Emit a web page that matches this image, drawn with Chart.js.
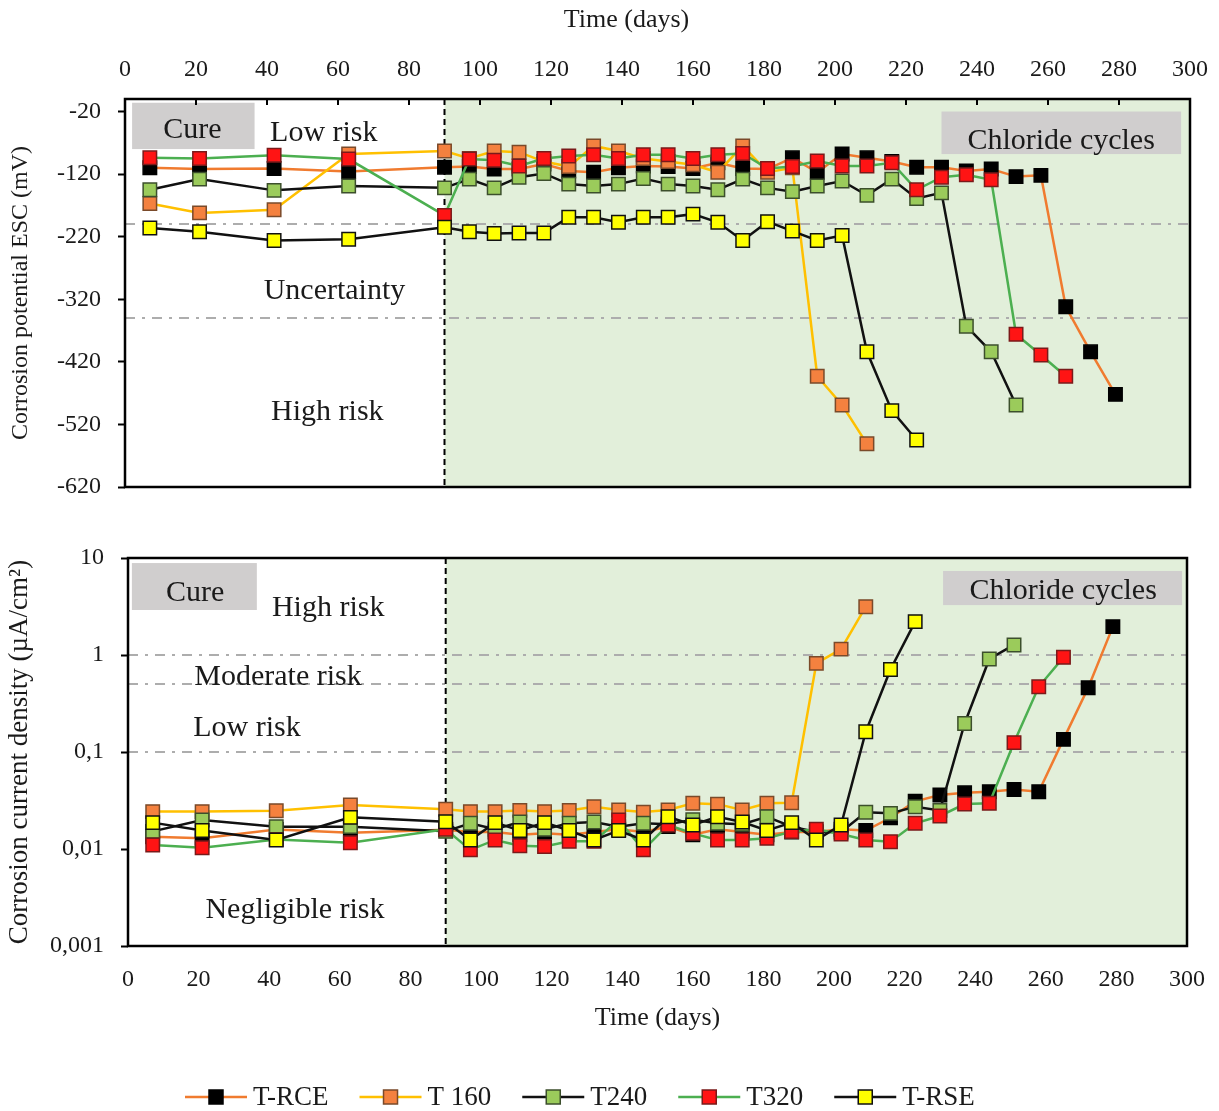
<!DOCTYPE html>
<html>
<head>
<meta charset="utf-8">
<script src="https://cdn.jsdelivr.net/npm/chart.js@4.4.1/dist/chart.umd.min.js"></script>
<style>
  html, body { margin: 0; padding: 0; background: #fff; }
  #wrap { position: relative; width: 1219px; height: 1111px; }
  canvas { position: absolute; left: 0; }
  #potential { top: 0; }
  #current { top: 505px; }
</style>
</head>
<body>
<div id="wrap">
  <canvas id="potential" width="1219" height="505"></canvas>
  <canvas id="current" width="1219" height="606"></canvas>
</div>
<script>
// measurement days (weekly during chloride cycles)
const days = [7, 21, 42, 63, 90, 97, 104, 111, 118, 125, 132, 139, 146, 153, 160, 167, 174, 181,
  188, 195, 202, 209, 216, 223, 230, 237, 244, 251, 258, 265, 272, 279];
const seriesNames = ['T-RCE', 'T 160', 'T240', 'T320', 'T-RSE'];

// corrosion potential vs SCE (mV)
const potRCE = [-110, -112, -111, -116, -109, -108, -112, -112, -104, -115, -117, -110, -107, -108, -111, -102,
  -111, -112, -94, -117, -88, -94, -100, -109, -109, -115, -112, -124, -122, -332, -404, -472];
const potT160 = [-167, -182, -177, -88, -83, -95, -83, -85, -100, -108, -75, -83, -95, -100, -105, -117,
  -75, -117, -110, -443, -489, -551];
const potT240 = [-145, -128, -146, -139, -142, -128, -142, -125, -119, -136, -139, -136, -127, -136, -139, -145,
  -128, -142, -148, -139, -131, -154, -128, -159, -150, -363, -404, -489];
const potT320 = [-94, -95, -90, -96, -186, -96, -98, -107, -95, -91, -89, -95, -89, -89, -95, -89,
  -87, -111, -108, -99, -107, -107, -102, -145, -125, -121, -129, -376, -409, -443];
const potRSE = [-206, -212, -226, -224, -205, -212, -215, -214, -214, -189, -189, -197, -189, -189, -184, -197,
  -226, -196, -211, -226, -218, -404, -498, -545];

// corrosion current density (uA/cm2)
const curRCE = [0.0134, 0.0129, 0.0159, 0.0147, 0.0158, 0.015, 0.015, 0.014, 0.0145, 0.014, 0.015, 0.016, 0.015,
  0.017, 0.014, 0.016, 0.015, 0.014, 0.015, 0.015, 0.016, 0.0155, 0.021, 0.031, 0.036, 0.038, 0.039, 0.041, 0.039,
  0.135, 0.46, 1.96];
const curT160 = [0.0243, 0.0243, 0.0248, 0.0284, 0.0257, 0.0243, 0.0243, 0.025, 0.0243, 0.025, 0.0273, 0.0252,
  0.024, 0.0252, 0.0296, 0.029, 0.0252, 0.0296, 0.030, 0.82, 1.15, 3.15];
const curT240 = [0.0152, 0.0199, 0.017, 0.017, 0.0152, 0.0184, 0.016, 0.019, 0.016, 0.0184, 0.019, 0.017, 0.0184,
  0.018, 0.02, 0.0184, 0.018, 0.0215, 0.017, 0.015, 0.015, 0.0239, 0.0233, 0.0273, 0.025, 0.197, 0.91, 1.27];
const curT320 = [0.011, 0.0103, 0.0125, 0.0116, 0.016, 0.0098, 0.0124, 0.0108, 0.0106, 0.012, 0.012, 0.0199,
  0.0098, 0.0177, 0.0145, 0.0124, 0.0124, 0.0129, 0.0151, 0.016, 0.0143, 0.0124, 0.0119, 0.0184, 0.0219, 0.0291,
  0.0296, 0.125, 0.47, 0.946];
const curRSE = [0.0187, 0.0155, 0.0124, 0.0212, 0.0191, 0.0124, 0.0187, 0.0155, 0.0187, 0.0155, 0.0124, 0.0155,
  0.0124, 0.0215, 0.0177, 0.0215, 0.019, 0.0155, 0.0187, 0.0124, 0.0177, 0.162, 0.71, 2.21];

// axis ticks
const potTicks = [-620, -520, -420, -320, -220, -120, -20];
const curTicks = [0.001, 0.01, 0.1, 1, 10];
const curTickLabels = ['0,001', '0,01', '0,1', '1', '10'];
const cureEnd = 90;

const styles = [
  { line: '#F07B2F', fill: '#000000', edge: '#000000' },
  { line: '#FFC000', fill: '#F4813F', edge: '#7A4A2A' },
  { line: '#111111', fill: '#9BCB5B', edge: '#3C4F2C' },
  { line: '#4CAF50', fill: '#FF1414', edge: '#7A1A1A' },
  { line: '#111111', fill: '#FFFF00', edge: '#111111' },
];

Chart.defaults.font.family = "'Liberation Serif', 'Times New Roman', serif";
Chart.defaults.color = '#1a1a1a';

function makeSets(lists) {
  return lists.map((vals, i) => ({
    label: seriesNames[i],
    data: vals.map((v, k) => ({ x: days[k], y: v })),
    borderColor: styles[i].line,
    borderWidth: 2.5,
    pointStyle: 'rect',
    pointRadius: 9.5,
    pointBackgroundColor: styles[i].fill,
    pointBorderColor: styles[i].edge,
    pointBorderWidth: 1.5,
    tension: 0,
    order: 5 - i,
  }));
}

function seg(ctx, x0, y0, x1, y1) {
  ctx.beginPath();
  ctx.moveTo(x0, y0);
  ctx.lineTo(x1, y1);
  ctx.stroke();
}

// keep the plot frame where the layout padding puts it
function fixY(w) {
  return s => { s.width = w; s.paddingTop = 0; s.paddingBottom = 0; };
}
function fixX(h) {
  return s => { s.height = h; s.paddingLeft = 0; s.paddingRight = 0; };
}

// shading, risk bands, phase boxes and labels, plot frame
const decor = {
  id: 'decor',
  beforeDatasetsDraw(chart, args, o) {
    const { ctx, chartArea: a, scales: { x, y } } = chart;
    const x90 = x.getPixelForValue(cureEnd);
    ctx.save();
    ctx.fillStyle = '#E2EFDA';
    ctx.fillRect(x90, a.top, a.right - x90, a.bottom - a.top);

    ctx.strokeStyle = '#ADADAD';
    ctx.lineWidth = 2;
    ctx.setLineDash([10, 7, 3, 7]);
    o.thresholds.forEach(v => {
      const py = Math.round(y.getPixelForValue(v));
      seg(ctx, a.left, py, a.right, py);
    });

    ctx.setLineDash([]);
    ctx.fillStyle = '#D0CECE';
    o.boxes.forEach(b => {
      const px0 = x.getPixelForValue(b.x0), px1 = x.getPixelForValue(b.x1);
      const py0 = y.getPixelForValue(b.y0), py1 = y.getPixelForValue(b.y1);
      ctx.fillRect(px0, py0, px1 - px0, py1 - py0);
    });

    ctx.strokeStyle = '#000';
    ctx.lineWidth = 2;
    ctx.setLineDash([6, 4]);
    seg(ctx, x90, a.top, x90, a.bottom);
    ctx.setLineDash([]);

    ctx.fillStyle = '#1a1a1a';
    ctx.font = "30px 'Liberation Serif'";
    ctx.textAlign = 'center';
    ctx.textBaseline = 'middle';
    o.labels.forEach(l => {
      ctx.fillText(l.text, x.getPixelForValue(l.x), y.getPixelForValue(l.y));
    });
    ctx.restore();
  },
  afterDatasetsDraw(chart, args, o) {
    const { ctx, chartArea: a, scales: { x } } = chart;
    ctx.save();
    ctx.strokeStyle = '#000';
    ctx.lineWidth = 2.5;
    ctx.strokeRect(a.left, a.top, a.right - a.left, a.bottom - a.top);
    if (o.innerTicks) {
      ctx.lineWidth = 2;
      for (let d = 20; d < 300; d += 20) {
        const px = x.getPixelForValue(d);
        seg(ctx, px, a.top, px, a.top + 6);
      }
    }
    if (o.topTitle) {
      ctx.fillStyle = '#1a1a1a';
      ctx.font = "26px 'Liberation Serif'";
      ctx.textAlign = 'center';
      ctx.textBaseline = 'middle';
      ctx.fillText(o.topTitle, (a.left + a.right) / 2 - 31, 20);
    }
    if (o.legend) drawLegend(chart);
    ctx.restore();
  }
};

function drawLegend(chart) {
  const ctx = chart.ctx;
  const y = chart.height - 14;
  let x = 185;
  ctx.font = "27px 'Liberation Serif'";
  ctx.textAlign = 'left';
  ctx.textBaseline = 'middle';
  seriesNames.forEach((name, i) => {
    const st = styles[i];
    ctx.strokeStyle = st.line;
    ctx.lineWidth = 2.5;
    seg(ctx, x, y, x + 62, y);
    ctx.fillStyle = st.fill;
    ctx.fillRect(x + 24, y - 7, 14, 14);
    ctx.strokeStyle = st.edge;
    ctx.lineWidth = 1.5;
    ctx.strokeRect(x + 24, y - 7, 14, 14);
    ctx.fillStyle = '#1a1a1a';
    ctx.fillText(name, x + 68, y + 1);
    x += 68 + ctx.measureText(name).width + 31;
  });
}

const common = {
  responsive: false,
  animation: false,
  devicePixelRatio: 1,
  events: [],
  plugins: { legend: { display: false }, tooltip: { enabled: false } },
};

new Chart(document.getElementById('potential'), {
  type: 'line',
  data: { datasets: makeSets([potRCE, potT160, potT240, potT320, potRSE]) },
  plugins: [decor],
  options: {
    ...common,
    layout: { padding: { left: 0, right: 29, top: 0, bottom: 18 } },
    plugins: {
      ...common.plugins,
      decor: {
        thresholds: [-200, -350],
        boxes: [
          { x0: 2, x1: 36.5, y0: -6, y1: -80 },
          { x0: 230, x1: 297.5, y0: -20, y1: -88 },
        ],
        labels: [
          { x: 19, y: -50, text: 'Cure' },
          { x: 263.7, y: -68, text: 'Chloride cycles' },
          { x: 56, y: -55, text: 'Low risk' },
          { x: 59, y: -307, text: 'Uncertainty' },
          { x: 57, y: -501, text: 'High risk' },
        ],
        innerTicks: true,
        topTitle: 'Time (days)',
      },
    },
    scales: {
      x: {
        type: 'linear', position: 'top', min: 0, max: 300,
        afterFit: fixX(99),
        grid: { display: false },
        border: { display: false },
        ticks: { stepSize: 20, padding: 7, font: { size: 24 }, maxRotation: 0, autoSkip: false },
      },
      y: {
        min: -620, max: 0,
        afterBuildTicks: s => { s.ticks = potTicks.map(v => ({ value: v })); },
        afterFit: fixY(125),
        grid: { drawOnChartArea: false, tickLength: 7, tickColor: '#000', tickWidth: 2 },
        border: { display: false },
        ticks: { padding: 17, font: { size: 24 }, callback: v => String(v) },
        title: { display: true, text: 'Corrosion potential ESC (mV)', font: { size: 24 }, padding: { top: 6 } },
      },
    },
  },
});

new Chart(document.getElementById('current'), {
  type: 'line',
  data: { datasets: makeSets([curRCE, curT160, curT240, curT320, curRSE]) },
  plugins: [decor],
  options: {
    ...common,
    layout: { padding: { left: 0, right: 32, top: 53, bottom: 65 } },
    plugins: {
      ...common.plugins,
      decor: {
        thresholds: [1, 0.5, 0.1],
        boxes: [
          { x0: 1.1, x1: 36.5, y0: 8.87, y1: 2.91 },
          { x0: 230.9, x1: 298.6, y0: 7.35, y1: 3.27 },
        ],
        labels: [
          { x: 19, y: 4.35, text: 'Cure' },
          { x: 264.9, y: 4.57, text: 'Chloride cycles' },
          { x: 56.7, y: 3.05, text: 'High risk' },
          { x: 42.5, y: 0.593, text: 'Moderate risk' },
          { x: 33.7, y: 0.177, text: 'Low risk' },
          { x: 47.3, y: 0.00235, text: 'Negligible risk' },
        ],
        innerTicks: false,
        legend: true,
      },
    },
    scales: {
      x: {
        type: 'linear', position: 'bottom', min: 0, max: 300,
        afterFit: fixX(100),
        grid: { display: false },
        border: { display: false },
        ticks: { stepSize: 20, padding: 11, font: { size: 24 }, maxRotation: 0, autoSkip: false },
        title: { display: true, text: 'Time (days)', font: { size: 26 }, padding: { top: 0, bottom: 12 } },
      },
      y: {
        type: 'logarithmic', min: 0.001, max: 10,
        afterBuildTicks: s => { s.ticks = curTicks.map(v => ({ value: v })); },
        afterFit: fixY(128),
        grid: { drawOnChartArea: false, tickLength: 7, tickColor: '#000', tickWidth: 2 },
        border: { display: false },
        ticks: { padding: 17, font: { size: 24 }, callback: (v, i) => curTickLabels[i] },
        title: { display: true, text: 'Corrosion current density (µA/cm²)', font: { size: 27 }, padding: { top: 4 } },
      },
    },
  },
});
</script>
</body>
</html>
